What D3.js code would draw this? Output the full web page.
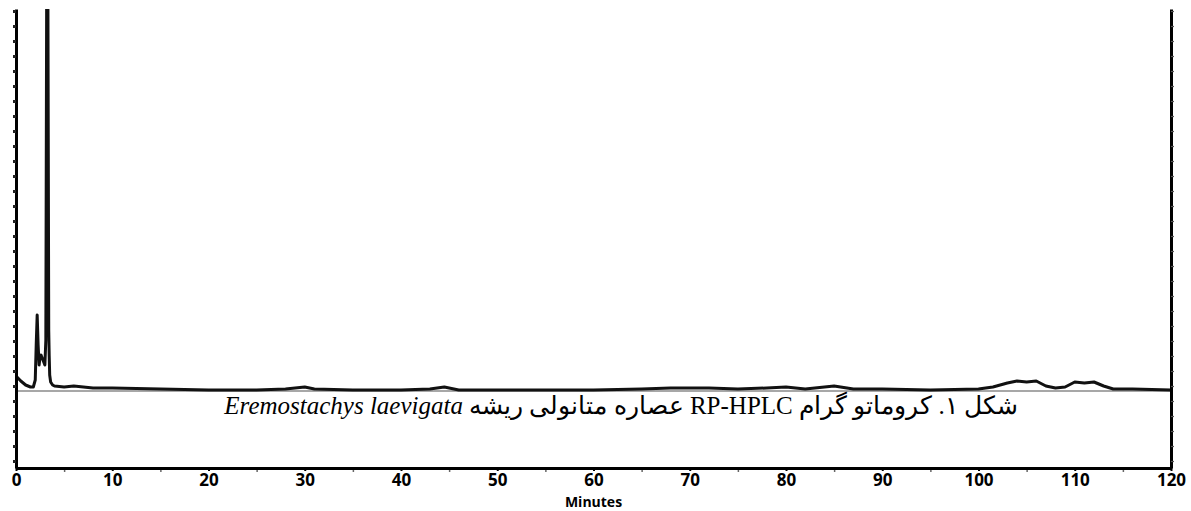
<!DOCTYPE html>
<html><head><meta charset="utf-8">
<script src="https://cdn.jsdelivr.net/npm/d3@7"></script>
<style>
body{margin:0;background:#fff;}
#wrap{position:relative;width:1191px;height:511px;}
#cap{position:absolute;right:173px;top:391px;font-family:"Liberation Serif","Times New Roman",serif;font-size:25px;line-height:29px;color:#000;white-space:nowrap;direction:rtl;}
#cap i{font-style:italic;}
</style></head><body>
<div id="wrap"><svg id="chart" width="1191" height="511"></svg>
<div id="cap">شکل ۱. کروماتو گرام RP-HPLC عصاره متانولی ریشه <i>Eremostachys laevigata</i></div></div>
<script>
// retention time (minutes) and detector signal (arbitrary units, baseline = 0)
const times =  [0,0.2,0.5,1.0,1.5,1.8,2.0,2.1,2.2,2.3,2.4,2.5,2.6,2.8,3.0,3.1,3.2,3.3,3.4,3.45,3.5,3.6,3.8,4,5,6,7,8,10,15,20,25,28,30,31,35,40,43,44.5,46,50,55,60,65,68,72,75,78,80,82,85,87,90,95,100,101.5,103,104,105,106,107,108,109,110,111,112,113,114,116,120];
const signal = [1.5,1.3,1.0,0.6,0.4,0.4,1.1,4.6,7.6,4.6,2.6,3.4,3.6,3.1,2.6,5.1,45,45,6.1,3.5,1.6,0.9,0.6,0.5,0.4,0.5,0.4,0.3,0.3,0.2,0.1,0.1,0.2,0.4,0.2,0.1,0.1,0.2,0.4,0.1,0.1,0.1,0.1,0.2,0.3,0.3,0.2,0.3,0.4,0.2,0.5,0.2,0.2,0.1,0.2,0.4,0.8,1.0,0.9,1.0,0.5,0.3,0.4,0.9,0.8,0.9,0.5,0.2,0.2,0.1];
const xTicks = [0,10,20,30,40,50,60,70,80,90,100,110,120];
const xLabel = "Minutes";

const svg = d3.select("#chart");
const L=16, R=1171, T=9, B=468;
const x = d3.scaleLinear().domain([0,120]).range([L,R]);
const y = d3.scaleLinear().domain([-7.7,38.2]).range([B,T]);

svg.append("defs").append("clipPath").attr("id","c")
  .append("rect").attr("x",L).attr("y",T).attr("width",R-L).attr("height",B-T);

// baseline (integration line)
svg.append("line").attr("x1",x(0)).attr("x2",x(120)).attr("y1",y(0)).attr("y2",y(0))
  .attr("stroke","#8a8a8a").attr("stroke-width",1.6);

const line = d3.line().x((d,i)=>x(times[i])).y(d=>y(d));
svg.append("path").datum(signal).attr("clip-path","url(#c)")
  .attr("d",line).attr("fill","none").attr("stroke","#111").attr("stroke-width",3)
  .attr("stroke-linejoin","round");

// axes
const minor = d3.range(5,120,10);
svg.append("g").attr("transform",`translate(0,${B})`)
  .call(d3.axisBottom(x).tickValues(minor).tickSize(4).tickFormat(""))
  .call(g=>{g.select(".domain").remove();g.selectAll("line").attr("stroke","#666").attr("stroke-width",1.5);});
const xa = svg.append("g").attr("transform",`translate(0,${B})`)
  .call(d3.axisBottom(x).tickValues(xTicks).tickSize(3).tickSizeOuter(0).tickPadding(3));
xa.select(".domain").attr("stroke","#000").attr("stroke-width",3);
xa.selectAll("line").attr("stroke","#000").attr("stroke-width",2);
xa.selectAll("text").attr("font-family","'Open Sans',sans-serif").attr("font-weight","bold").attr("font-size",17).attr("fill","#000");

const yt = d3.range(-7,39,1.5);
const ya = svg.append("g").attr("transform",`translate(${L},0)`)
  .call(d3.axisLeft(y).tickValues(yt).tickSize(3).tickSizeOuter(0).tickFormat(""));
ya.select(".domain").attr("stroke","#000").attr("stroke-width",3);
ya.selectAll("line").attr("stroke","#222").attr("stroke-width",3);
const yr = svg.append("g").attr("transform",`translate(${R},0)`)
  .call(d3.axisRight(y).tickValues(yt).tickSize(3).tickSizeOuter(0).tickFormat(""));
yr.select(".domain").attr("stroke","#000").attr("stroke-width",3);
yr.selectAll("line").attr("stroke","#555").attr("stroke-width",1.2);

svg.append("text").attr("x",x(60)).attr("y",507).attr("text-anchor","middle")
  .attr("font-family","'Open Sans',sans-serif").attr("font-weight","bold").attr("font-size",14)
  .text(xLabel);
</script></body></html>
